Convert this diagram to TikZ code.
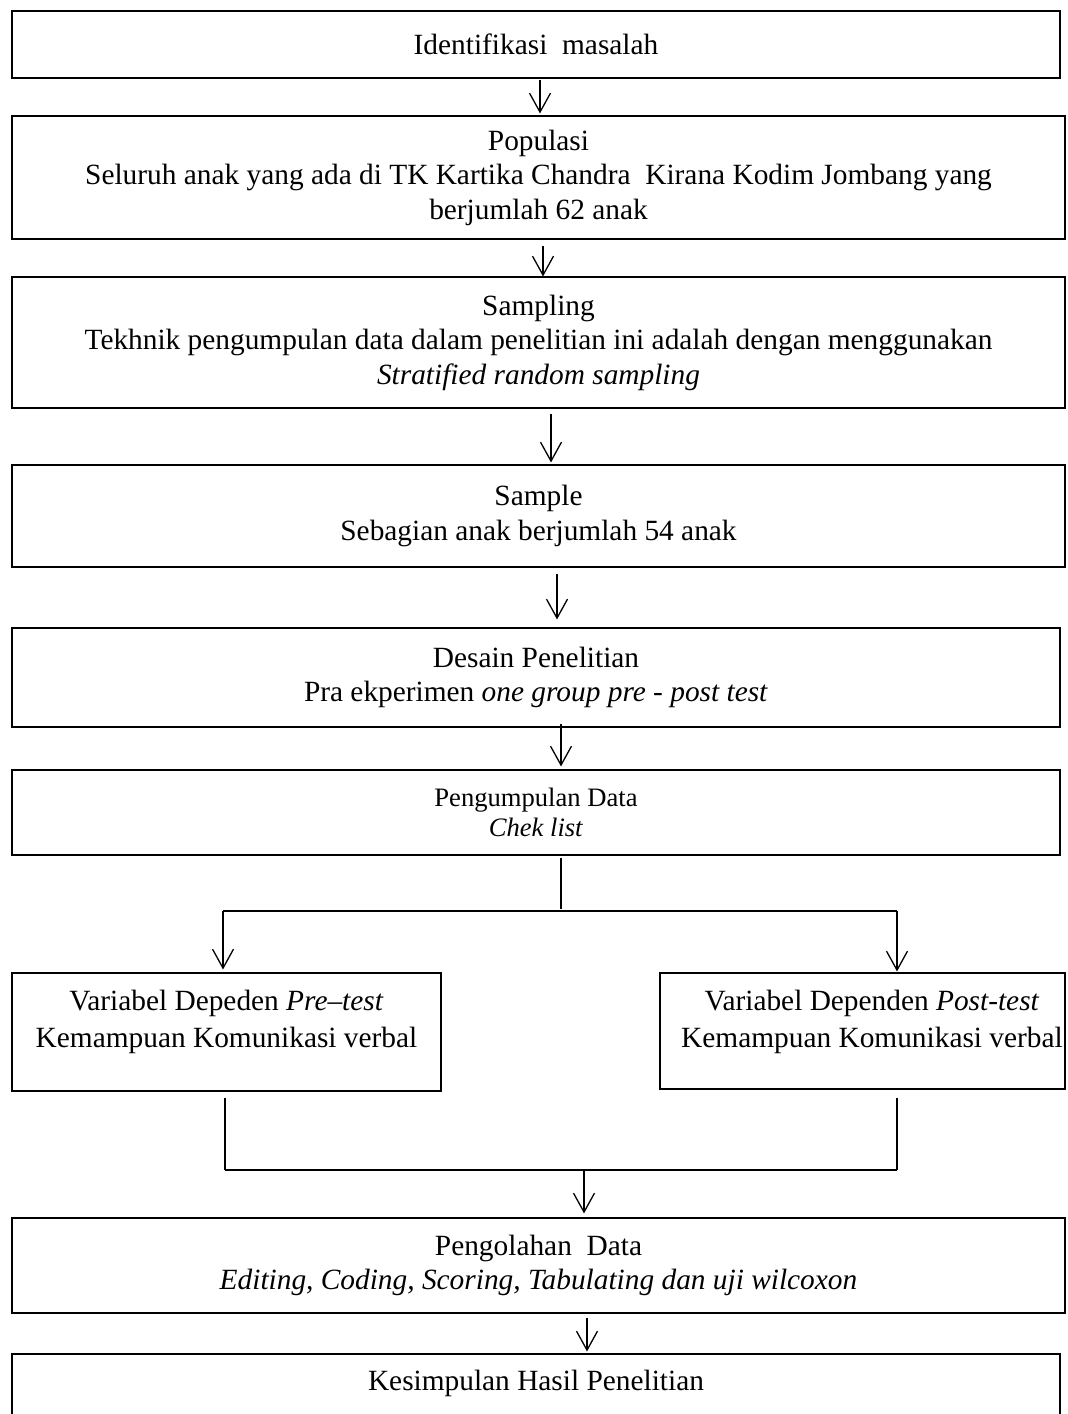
\documentclass[tikz,border=0pt]{standalone}
\usepackage{fontspec}
\setmainfont{Liberation Serif}
\usetikzlibrary{arrows.meta}
\newcommand\fsA{\fontsize{14.68pt}{17.25pt}\selectfont}
\newcommand\fsB{\fontsize{13.3pt}{15pt}\selectfont}
\begin{document}
\begin{tikzpicture}[x=0.5pt,y=-0.5pt,
  box/.style={draw, line width=0.55pt, inner sep=0pt, align=center, font=\fsA},
  txt/.style={inner sep=0pt, align=center, font=\fsA},
  arr/.style={line width=0.65pt, -{Straight Barb[length=9.5pt,width=10.5pt]}},
  ln/.style={line width=0.65pt}]
\useasboundingbox (0,0) rectangle (1067,1414);
\clip (0,0) rectangle (1067,1414);
\fill[white] (0,0) rectangle (1067,1414);

\node[box, minimum width=524pt, minimum height=33.5pt] (b1) at (536,44.5) {Identifikasi~ masalah};
\node[box, minimum width=526.5pt, minimum height=61.5pt] (b2) at (538.5,177.5)
  {Populasi\\Seluruh anak yang ada di TK Kartika Chandra~ Kirana Kodim Jombang yang\\berjumlah 62 anak};
\node[box, minimum width=526.5pt, minimum height=65.5pt] (b3) at (538.5,342.5)
  {Sampling\\Tekhnik pengumpulan data dalam penelitian ini adalah dengan menggunakan\\\textit{Stratified random sampling}};
\node[box, minimum width=526.5pt, minimum height=51pt] (b4) at (538.5,516)
  {Sample\\Sebagian anak berjumlah 54 anak};
\node[box, minimum width=524pt, minimum height=49.5pt] (b5) at (536,677.5)
  {Desain Penelitian\\Pra ekperimen \textit{one group pre - post test}};
\node[box, minimum width=524pt, minimum height=42.5pt, font=\fsB] (b6) at (536,812.5)
  {Pengumpulan Data\\\textit{Chek list}};
\node[box, minimum width=214.5pt, minimum height=59pt] (pre) at (226.5,1032) {};
\node[txt] (pret) at (226.5,1021.5)
  {Variabel Depeden \textit{Pre–test}\\[1.25pt]Kemampuan Komunikasi verbal};
\node[box, minimum width=202.5pt, minimum height=58pt] (post) at (862.5,1031) {};
\node[txt] (postt) at (872,1021.5)
  {Variabel Dependen \textit{Post-test}\\[1.25pt]Kemampuan Komunikasi verbal};
\node[box, minimum width=526.5pt, minimum height=47.5pt] (b8) at (538.5,1265.5)
  {Pengolahan~ Data\\\textit{Editing, Coding, Scoring, Tabulating dan uji wilcoxon}};
\node[box, minimum width=524pt, minimum height=48pt] (b9) at (536,1402) {};
\node[txt] (b9t) at (536,1383) {Kesimpulan Hasil Penelitian};

% arrow x positions
\coordinate (x1) at (540,0);
\coordinate (x2) at (543,0);
\coordinate (x3) at (551,0);
\coordinate (x4) at (557,0);
\coordinate (x5) at (561,0);
\coordinate (x9) at (587,0);

\draw[arr, shorten <=0.5pt, shorten >=1pt] (b1.south -| x1) -- (b2.north -| x1);
\draw[arr, shorten <=3pt] (b2.south -| x2) -- (b3.north -| x2);
\draw[arr, shorten <=2.5pt, shorten >=1pt] (b3.south -| x3) -- (b4.north -| x3);
\draw[arr, shorten <=3pt, shorten >=4pt] (b4.south -| x4) -- (b5.north -| x4);
\draw[arr, shorten <=-2pt, shorten >=1.5pt] (b5.south -| x5) -- (b6.north -| x5);

% split
\coordinate (jt) at (561,909);
\coordinate (jl) at (223,911);
\coordinate (jr) at (897,911);
\draw[ln, shorten <=1pt] (b6.south -| jt) -- (jt);
\draw[ln, line width=0.8pt] (jl) -- (jr);
\draw[arr, shorten >=1.5pt] (jl) -- (pre.north -| jl);
\draw[arr, shorten >=0.5pt] (jr) -- (post.north -| jr);

% merge
\coordinate (bl) at (225,1170);
\coordinate (br) at (897,1170);
\coordinate (bm) at (584,1170);
\draw[ln, shorten <=3pt] (pre.south -| bl) -- (bl);
\draw[ln, shorten <=4pt] (post.south -| br) -- (br);
\draw[ln, line width=0.8pt] (bl) -- (br);
\draw[arr, shorten >=2pt] (bm) -- (b8.north -| bm);

\draw[arr, shorten <=2pt, shorten >=1pt] (b8.south -| x9) -- (b9.north -| x9);
\end{tikzpicture}
\end{document}
